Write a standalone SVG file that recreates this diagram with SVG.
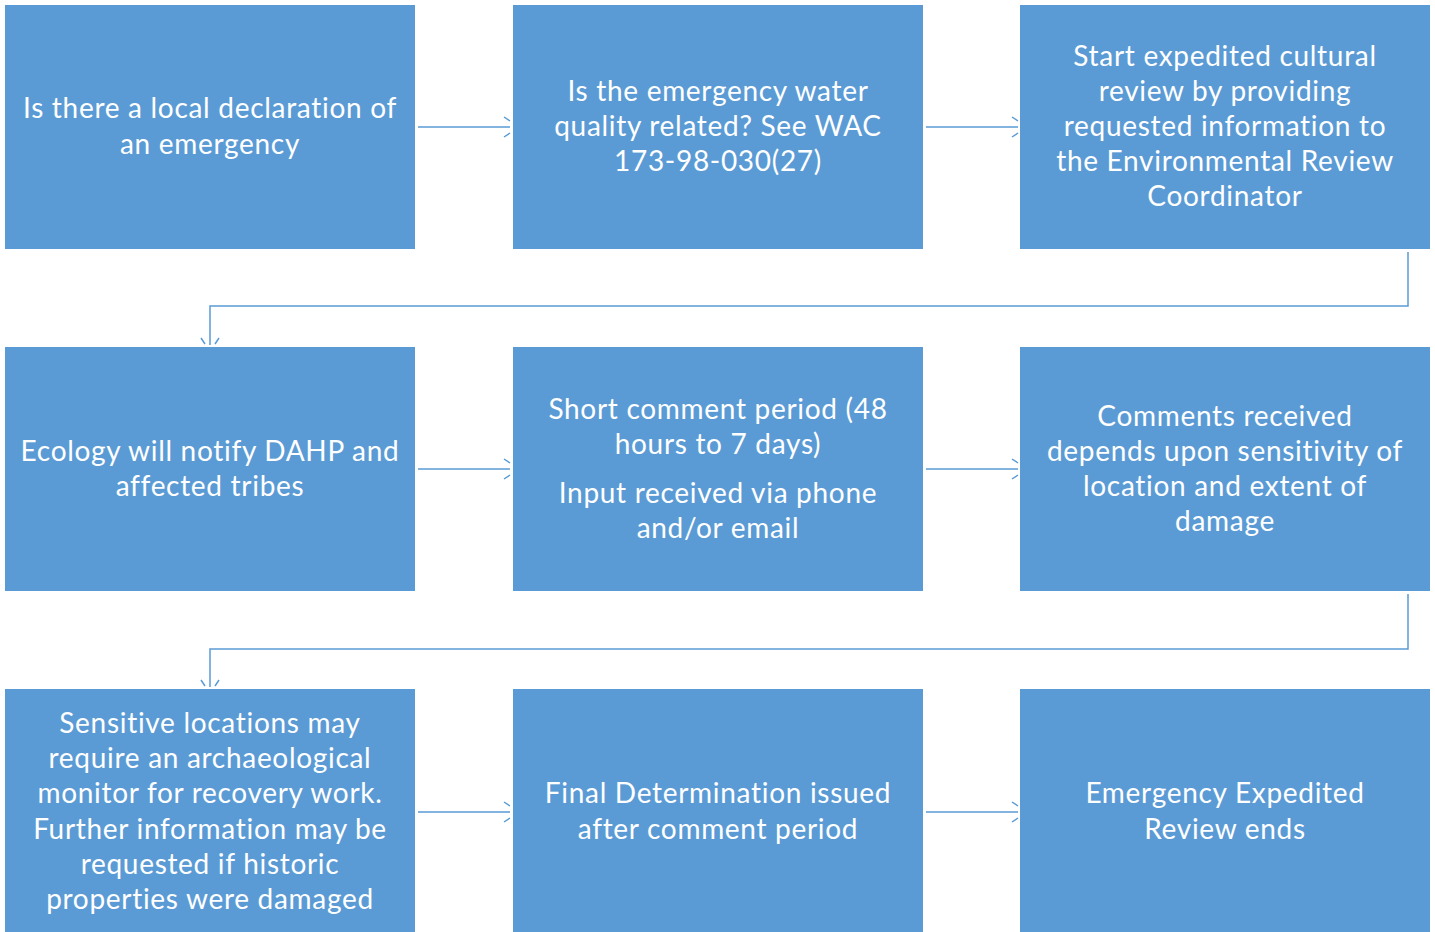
<svg xmlns="http://www.w3.org/2000/svg" width="1435" height="932" viewBox="0 0 1435 932">
<style>
.box{fill:#5B9BD5;}
.t{fill:#FFFFFF;font-family:"Lato","Open Sans",sans-serif;font-size:28px;letter-spacing:0.7px;text-anchor:middle;}
.c{fill:none;stroke:#5B9BD5;stroke-width:1.5;}
</style>
<rect width="1435" height="932" fill="#FFFFFF"/>
<g id="connectors" class="c">
<path d="M418,127 H510 M504,117 L510,121 M504,137 L510,133"/>
<path d="M926,127 H1018 M1012,117 L1018,121 M1012,137 L1018,133"/>
<path d="M1408,252 V306 H210 V345 M201,338 L205,344 M219,338 L215,344"/>
<path d="M418,469 H510 M504,459 L510,463 M504,479 L510,475"/>
<path d="M926,469 H1018 M1012,459 L1018,463 M1012,479 L1018,475"/>
<path d="M1408,594 V649 H210 V687 M201,680 L205,686 M219,680 L215,686"/>
<path d="M418,812 H510 M504,802 L510,806 M504,822 L510,818"/>
<path d="M926,812 H1018 M1012,802 L1018,806 M1012,822 L1018,818"/>
</g>
<g id="n1"><rect class="box" x="5" y="5" width="410" height="244"/>
<text class="t" x="210" y="118">Is there a local declaration of</text>
<text class="t" x="210" y="154">an emergency</text></g>
<g id="n2"><rect class="box" x="513" y="5" width="410" height="244"/>
<text class="t" x="718" y="101">Is the emergency water</text>
<text class="t" x="718" y="136">quality related? See WAC</text>
<text class="t" x="718" y="171">173-98-030(27)</text></g>
<g id="n3"><rect class="box" x="1020" y="5" width="410" height="244"/>
<text class="t" x="1225" y="66">Start expedited cultural</text>
<text class="t" x="1225" y="101">review by providing</text>
<text class="t" x="1225" y="136">requested information to</text>
<text class="t" x="1225" y="171">the Environmental Review</text>
<text class="t" x="1225" y="206">Coordinator</text></g>
<g id="n4"><rect class="box" x="5" y="347" width="410" height="244"/>
<text class="t" x="210" y="461">Ecology will notify DAHP and</text>
<text class="t" x="210" y="496">affected tribes</text></g>
<g id="n5"><rect class="box" x="513" y="347" width="410" height="244"/>
<text class="t" x="718" y="419">Short comment period (48</text>
<text class="t" x="718" y="454">hours to 7 days)</text>
<text class="t" x="718" y="503">Input received via phone</text>
<text class="t" x="718" y="538">and/or email</text></g>
<g id="n6"><rect class="box" x="1020" y="347" width="410" height="244"/>
<text class="t" x="1225" y="426">Comments received</text>
<text class="t" x="1225" y="461">depends upon sensitivity of</text>
<text class="t" x="1225" y="496">location and extent of</text>
<text class="t" x="1225" y="531">damage</text></g>
<g id="n7"><rect class="box" x="5" y="689" width="410" height="250"/>
<text class="t" x="210" y="733">Sensitive locations may</text>
<text class="t" x="210" y="768">require an archaeological</text>
<text class="t" x="210" y="803">monitor for recovery work.</text>
<text class="t" x="210" y="839">Further information may be</text>
<text class="t" x="210" y="874">requested if historic</text>
<text class="t" x="210" y="909">properties were damaged</text></g>
<g id="n8"><rect class="box" x="513" y="689" width="410" height="250"/>
<text class="t" x="718" y="803">Final Determination issued</text>
<text class="t" x="718" y="839">after comment period</text></g>
<g id="n9"><rect class="box" x="1020" y="689" width="410" height="250"/>
<text class="t" x="1225" y="803">Emergency Expedited</text>
<text class="t" x="1225" y="839">Review ends</text></g>
</svg>
